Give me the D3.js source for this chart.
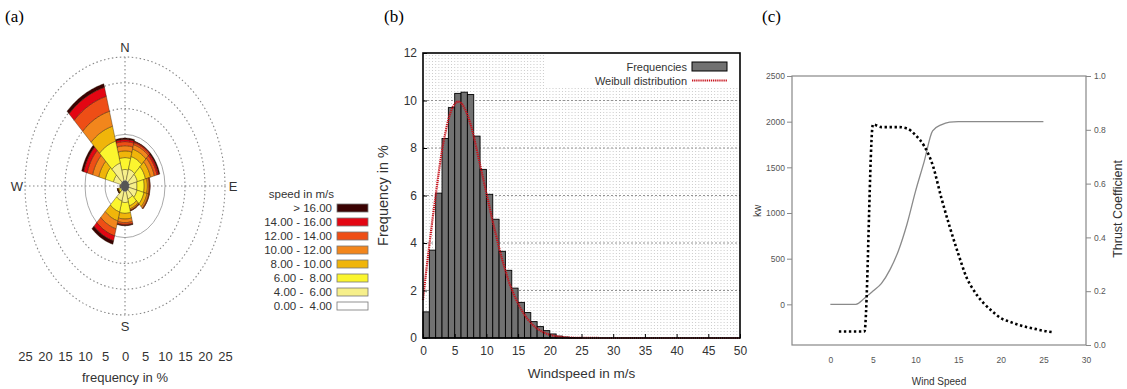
<!DOCTYPE html>
<html>
<head>
<meta charset="utf-8">
<script src="https://cdn.jsdelivr.net/npm/d3@7"></script>
<style>
  body { margin: 0; background: #fff; }
  svg { display: block; }
  text { font-family: "Liberation Sans", Arial, sans-serif; fill: #333; }
  .panel-label { font-family: "Liberation Serif", "Times New Roman", serif; font-size: 17px; fill: #000; }
  .c-axis text { font-family: "Liberation Sans Narrow", "Arial Narrow", "Liberation Sans", sans-serif; font-size: 8.5px; fill: #555; }
  .c-axis line, .c-axis path { stroke: #888; }
</style>
</head>
<body>
<svg id="fig" width="1127" height="389"></svg>
<script>
// ---------- (a) wind rose data ----------
const roseDirections = [0, 30, 60, 90, 120, 150, 180, 210, 240, 270, 300, 330];
const speedLabels = ["0.00 -  4.00", "4.00 -  6.00", "6.00 -  8.00", "8.00 - 10.00",
                     "10.00 - 12.00", "12.00 - 14.00", "14.00 - 16.00", "> 16.00"];
const speedColors = ["#ffffff", "#f6ef8a", "#fbf52e", "#f0b50a", "#f2861c", "#ee4e16", "#e30613", "#3a0202"];
// frequency in % per direction, one array per speed class
const freq0to4   = [0.6, 0.6, 0.6, 0.6, 0.6, 0.6, 0.6, 0.6, 0.5, 0.4, 0.6, 0.8];
const freq4to6   = [2.6, 2.8, 2.6, 2.4, 2.5, 2.0, 2.6, 2.4, 0.7, 0.45, 2.4, 3.8];
const freq6to8   = [2.3, 2.5, 2.1, 1.8, 1.8, 1.4, 2.1, 2.2, 0.4, 0.2, 2.1, 4.4];
const freq8to10  = [1.3, 1.5, 1.3, 0.8, 0.8, 0.6, 1.1, 1.8, 0.2, 0.08, 1.7, 3.0];
const freq10to12 = [1.0, 0.9, 1.0, 0.4, 0.4, 0.25, 0.7, 1.6, 0.1, 0.04, 1.6, 3.0];
const freq12to14 = [0.8, 0.4, 0.7, 0.2, 0.15, 0.1, 0.35, 1.4, 0.05, 0.02, 1.4, 3.0];
const freq14to16 = [0.4, 0.2, 0.4, 0.1, 0.05, 0.05, 0.15, 1.0, 0.03, 0.01, 0.9, 1.8];
const freqOver16 = [0.3, 0.1, 0.3, 0.0, 0.0, 0.0, 0.1, 0.7, 0.02, 0.0, 0.5, 0.7];
const roseRings = [5, 10, 15, 20, 25];
const roseTicks = [-25, -20, -15, -10, -5, 0, 5, 10, 15, 20, 25];

// ---------- (b) histogram data ----------
const histFreq = [1.1, 3.7, 6.1, 8.4, 9.7, 10.3, 10.35, 10.25, 8.5, 7.1, 6.05, 5.0, 3.65, 2.85,
                  2.1, 1.5, 1.07, 0.69, 0.48, 0.31, 0.17, 0.08, 0.04, 0.02, 0.01];
const weibullX = [0, 0.5, 1, 1.5, 2, 2.5, 3, 3.5, 4, 4.5, 5, 5.5, 6, 6.5, 7, 7.5, 8, 8.5, 9, 9.5,
                  10, 10.5, 11, 11.5, 12, 12.5, 13, 13.5, 14, 15, 16, 17, 18, 19, 20, 21, 22, 24, 26, 30, 50];
const weibullY = [1.6, 2.8, 3.9, 5.0, 6.0, 7.0, 7.9, 8.6, 9.2, 9.6, 9.85, 9.95, 9.9, 9.7, 9.4, 9.0,
                  8.5, 7.9, 7.3, 6.7, 6.1, 5.5, 4.9, 4.35, 3.8, 3.3, 2.85, 2.4, 2.05, 1.45, 0.98,
                  0.64, 0.4, 0.24, 0.14, 0.08, 0.04, 0.01, 0.003, 0, 0];
const histYTicks = [0, 2, 4, 6, 8, 10, 12];
const histXTicks = [0, 5, 10, 15, 20, 25, 30, 35, 40, 45, 50];

// ---------- (c) turbine curves ----------
const powerWind = [0, 1, 2, 3, 4, 5, 6, 7, 8, 9, 10, 11, 12, 13, 14, 15, 16, 17, 18, 19, 20, 21, 22, 23, 24, 25];
const powerKW   = [0, 0, 0, 0, 66, 145, 230, 380, 590, 880, 1240, 1560, 1900, 1965, 1995, 2000,
                   2000, 2000, 2000, 2000, 2000, 2000, 2000, 2000, 2000, 2000];
const thrustWind = [1, 2, 3, 4, 5, 6, 7, 8, 9, 10, 11, 12, 13, 14, 15, 16, 17, 18, 19, 20, 21, 22, 23, 24, 25, 26];
const thrustCt   = [0.05, 0.05, 0.05, 0.05, 0.82, 0.81, 0.81, 0.81, 0.805, 0.78, 0.74, 0.67, 0.55, 0.44,
                    0.34, 0.25, 0.195, 0.155, 0.125, 0.10, 0.087, 0.076, 0.067, 0.06, 0.053, 0.048];
const kwTicks = [0, 500, 1000, 1500, 2000, 2500];
const ctTicks = [0.0, 0.2, 0.4, 0.6, 0.8, 1.0];
const windTicks = [0, 5, 10, 15, 20, 25, 30];

const svg = d3.select("#fig");
svg.append("rect").attr("width", 1127).attr("height", 389).attr("fill", "#fff");

// panel letters
[["(a)", 5], ["(b)", 384], ["(c)", 762]].forEach(([t, x]) =>
  svg.append("text").attr("class", "panel-label").attr("x", x).attr("y", 22).text(t));

// ================= (a) =================
const cx = 125, cy = 186;
const xRose = d3.scaleLinear().domain([-25, 25]).range([25, 225]);
const yRose = d3.scaleLinear().domain([-25, 25]).range([315, 57]);
const rose = svg.append("g");

roseRings.forEach(r => {
  rose.append("ellipse")
    .attr("cx", cx).attr("cy", cy)
    .attr("rx", xRose(r) - xRose(0)).attr("ry", yRose(0) - yRose(r))
    .attr("fill", "none")
    .attr("stroke", r <= 10 ? "#aaa" : "#888")
    .attr("stroke-width", r <= 10 ? 1 : 1.1)
    .attr("stroke-dasharray", r <= 10 ? null : "1.5,2.5");
});
rose.append("line").attr("x1", xRose(-25)).attr("x2", xRose(25)).attr("y1", cy).attr("y2", cy)
  .attr("stroke", "#888").attr("stroke-width", 1.1).attr("stroke-dasharray", "1.5,2.5");
rose.append("line").attr("x1", cx).attr("x2", cx).attr("y1", yRose(25)).attr("y2", yRose(-25))
  .attr("stroke", "#888").attr("stroke-width", 1.1).attr("stroke-dasharray", "1.5,2.5");

const classSeries = [freq0to4, freq4to6, freq6to8, freq8to10, freq10to12, freq12to14, freq14to16, freqOver16];
const rad = d => d * Math.PI / 180;
const pt = (r, a) => [xRose(r * Math.sin(rad(a))), yRose(r * Math.cos(rad(a)))];
const bandPath = (a, r0, r1) => {
  const steps = d3.range(a - 15, a + 15.001, 1);
  const outer = steps.map(t => pt(r1, t));
  const inner = steps.slice().reverse().map(t => pt(r0, t));
  return d3.line()(outer.concat(inner)) + "Z";
};
roseDirections.forEach((dir, j) => {
  let cum = 0;
  classSeries.forEach((series, i) => {
    const v = series[j];
    if (v <= 0) return;
    rose.append("path")
      .attr("d", bandPath(dir, cum, cum + v))
      .attr("fill", speedColors[i])
      .attr("stroke", "#2a1a00").attr("stroke-opacity", 0.55).attr("stroke-width", 0.7);
    cum += v;
  });
});
rose.append("ellipse").attr("cx", cx).attr("cy", cy)
  .attr("rx", xRose(1.1) - xRose(0)).attr("ry", yRose(0) - yRose(1.1))
  .attr("fill", "#555").attr("stroke", "#ddd").attr("stroke-width", 0.6).attr("stroke-dasharray", "1,1");

[["N", cx, 47], ["S", cx, 326], ["W", 17, cy], ["E", 233, cy]].forEach(([t, x, y]) =>
  rose.append("text").attr("x", x).attr("y", y).attr("dy", "0.35em")
    .attr("text-anchor", "middle").attr("font-size", 13).text(t));

const roseAxis = rose.append("g").attr("transform", `translate(0,349)`)
  .call(d3.axisBottom(xRose).tickValues(roseTicks).tickFormat(d => Math.abs(d)).tickSize(0).tickPadding(3));
roseAxis.select(".domain").remove();
roseAxis.selectAll("text").attr("font-size", 13).attr("fill", "#333").style("font-family", "Liberation Sans, Arial, sans-serif");
rose.append("text").attr("x", cx).attr("y", 377).attr("dy", "0.35em")
  .attr("text-anchor", "middle").attr("font-size", 13).text("frequency in %");

// legend
const leg = svg.append("g");
leg.append("text").attr("x", 334).attr("y", 194).attr("dy", "0.35em")
  .attr("text-anchor", "end").attr("font-size", 11.5).text("speed in m/s");
speedLabels.slice().reverse().forEach((lab, k) => {
  const y = 208 + 14 * k;
  const idx = speedLabels.length - 1 - k;
  leg.append("text").attr("x", 332).attr("y", y).attr("dy", "0.35em")
    .attr("text-anchor", "end").attr("font-size", 11.5).style("white-space", "pre").text(lab);
  leg.append("rect").attr("x", 337).attr("y", y - 4).attr("width", 31).attr("height", 8)
    .attr("fill", speedColors[idx]).attr("stroke", "#777").attr("stroke-width", 0.8);
});

// ================= (b) =================
const xb = d3.scaleLinear().domain([0, 50]).range([423, 740]);
const yb = d3.scaleLinear().domain([0, 12]).range([338, 53]);
const hb = svg.append("g");

hb.append("g").selectAll("line").data(d3.range(0.5, 50, 0.5)).join("line")
  .attr("x1", d => xb(d)).attr("x2", d => xb(d)).attr("y1", yb(0)).attr("y2", yb(12))
  .attr("stroke", "#aaa").attr("stroke-width", 0.6).attr("stroke-dasharray", "1,2");
hb.append("g").selectAll("line").data(histYTicks.slice(1, -1)).join("line")
  .attr("x1", xb(0)).attr("x2", xb(50)).attr("y1", d => yb(d)).attr("y2", d => yb(d))
  .attr("stroke", "#888").attr("stroke-width", 0.9).attr("stroke-dasharray", "2,2");

// legend background
hb.append("rect").attr("x", 546).attr("y", 55).attr("width", 192).attr("height", 32).attr("fill", "#fff");

hb.append("g").selectAll("rect").data(histFreq).join("rect")
  .attr("x", (d, i) => xb(i)).attr("width", (d, i) => xb(i + 1) - xb(i))
  .attr("y", d => yb(d)).attr("height", d => yb(0) - yb(d))
  .attr("fill", "#717171").attr("stroke", "#000").attr("stroke-width", 0.9);

const weib = weibullX.map((x, i) => [x, weibullY[i]]);
hb.append("path").datum(weib)
  .attr("d", d3.line().x(d => xb(d[0])).y(d => yb(d[1])).curve(d3.curveMonotoneX))
  .attr("fill", "none").attr("stroke", "#c8141e").attr("stroke-width", 2.2).attr("stroke-dasharray", "1.3,0.8");

const yAxB = hb.append("g").attr("transform", `translate(${xb(0)},0)`)
  .call(d3.axisLeft(yb).tickValues(histYTicks).tickSize(-4).tickPadding(6));
const xAxB = hb.append("g").attr("transform", `translate(0,${yb(0)})`)
  .call(d3.axisBottom(xb).tickValues(histXTicks).tickSize(-4).tickPadding(8));
[yAxB, xAxB].forEach(g => {
  g.select(".domain").remove();
  g.selectAll("line").attr("stroke", "#000");
  g.selectAll("text").attr("font-size", 12).attr("fill", "#333").style("font-family", "Liberation Sans, Arial, sans-serif");
});

hb.append("rect").attr("x", xb(0)).attr("y", yb(12)).attr("width", xb(50) - xb(0)).attr("height", yb(0) - yb(12))
  .attr("fill", "none").attr("stroke", "#000").attr("stroke-width", 1.6);

hb.append("text").attr("x", (xb(0) + xb(50)) / 2).attr("y", 373).attr("dy", "0.35em")
  .attr("text-anchor", "middle").attr("font-size", 13.5).text("Windspeed in m/s");
hb.append("text").attr("transform", `translate(383,${(yb(0) + yb(12)) / 2}) rotate(-90)`)
  .attr("dy", "0.35em").attr("text-anchor", "middle").attr("font-size", 14.5).text("Frequency in %");

hb.append("text").attr("x", 687).attr("y", 67).attr("dy", "0.35em").attr("text-anchor", "end")
  .attr("font-size", 11).text("Frequencies");
hb.append("rect").attr("x", 692).attr("y", 62).attr("width", 35).attr("height", 9)
  .attr("fill", "#717171").attr("stroke", "#000").attr("stroke-width", 1);
hb.append("text").attr("x", 687).attr("y", 81).attr("dy", "0.35em").attr("text-anchor", "end")
  .attr("font-size", 11).text("Weibull distribution");
hb.append("line").attr("x1", 692).attr("x2", 727).attr("y1", 80.5).attr("y2", 80.5)
  .attr("stroke", "#c8141e").attr("stroke-width", 2).attr("stroke-dasharray", "1.3,0.8");

// ================= (c) =================
const xc = d3.scaleLinear().domain([-4.5, 30]).range([792, 1086]);
const ycL = d3.scaleLinear().domain([-445, 2500]).range([345, 76]);
const ycR = d3.scaleLinear().domain([0, 1]).range([345, 76]);
const pc = svg.append("g");

pc.append("rect").attr("x", xc(-4.5)).attr("y", ycR(1)).attr("width", xc(30) - xc(-4.5)).attr("height", ycR(0) - ycR(1))
  .attr("fill", "none").attr("stroke", "#888").attr("stroke-width", 1.2);

pc.append("g").attr("class", "c-axis").attr("transform", `translate(${xc(-4.5)},0)`)
  .call(d3.axisLeft(ycL).tickValues(kwTicks).tickSize(5).tickPadding(2).tickFormat(d3.format("d")))
  .select(".domain").remove();
pc.append("g").attr("class", "c-axis").attr("transform", `translate(${xc(30)},0)`)
  .call(d3.axisRight(ycR).tickValues(ctTicks).tickSize(5).tickPadding(3).tickFormat(d3.format(".1f")))
  .select(".domain").remove();
pc.append("g").attr("class", "c-axis").attr("transform", `translate(0,${ycR(0)})`)
  .call(d3.axisBottom(xc).tickValues(windTicks).tickSize(0).tickPadding(12))
  .select(".domain").remove();

const power = powerWind.map((w, i) => [w, powerKW[i]]);
pc.append("path").datum(power)
  .attr("d", d3.line().x(d => xc(d[0])).y(d => ycL(d[1])).curve(d3.curveMonotoneX))
  .attr("fill", "none").attr("stroke", "#8a8a8a").attr("stroke-width", 1.3);

const thrust = thrustWind.map((w, i) => [w, thrustCt[i]]);
pc.append("path").datum(thrust)
  .attr("d", d3.line().x(d => xc(d[0])).y(d => ycR(d[1])).curve(d3.curveMonotoneX))
  .attr("fill", "none").attr("stroke", "#000").attr("stroke-width", 2.6).attr("stroke-dasharray", "2.4,2.6");

pc.append("text").attr("x", (xc(-4.5) + xc(30)) / 2).attr("y", 381).attr("dy", "0.35em")
  .attr("text-anchor", "middle").attr("font-size", 10).attr("fill", "#555").text("Wind Speed");
pc.append("text").attr("transform", `translate(757,211) rotate(-90)`).attr("dy", "0.35em")
  .attr("text-anchor", "middle").attr("font-size", 10).attr("fill", "#555").text("kw");
pc.append("text").attr("transform", `translate(1118,209) rotate(-90)`).attr("dy", "0.35em")
  .attr("text-anchor", "middle").attr("font-size", 12.5).attr("fill", "#555").text("Thrust Coefficient");
</script>
</body>
</html>
